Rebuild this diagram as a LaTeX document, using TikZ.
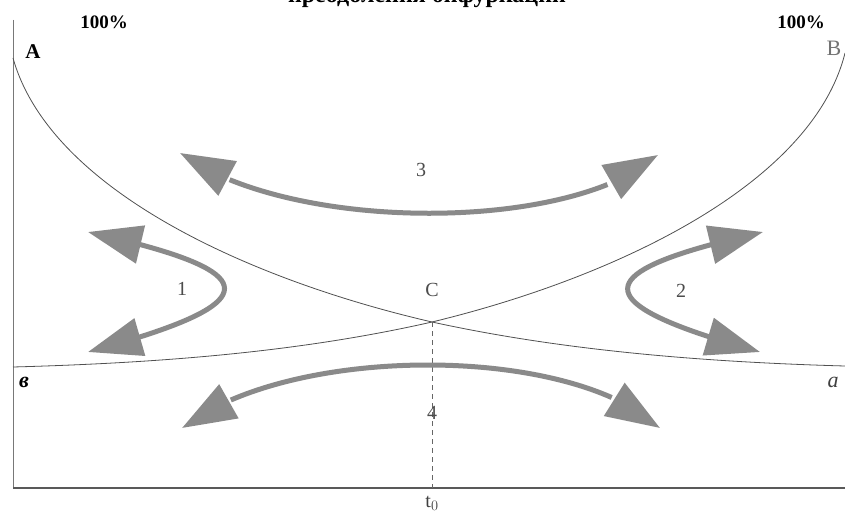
\documentclass[tikz,border=0pt]{standalone}
\usepackage{fontspec}
\setmainfont{Liberation Serif}
\usetikzlibrary{arrows.meta,bending}
\definecolor{arrowgray}{RGB}{138,138,138}
\definecolor{axisgray}{RGB}{120,120,120}
\definecolor{curvegray}{RGB}{80,80,80}
\tikzset{
  garrow/.style={line width=5pt, draw=arrowgray,
    {Triangle[length=54pt,width=38pt]}-{Triangle[length=54pt,width=38pt]}},
  curveline/.style={draw=curvegray, line width=0.8pt},
  axisline/.style={draw=axisgray, line width=1pt},
  baseline/.style={draw=black!65, line width=1.4pt},
  lbl/.style={inner sep=0pt, font=\fontsize{20}{24}\selectfont},
  pct/.style={inner sep=0pt, font=\fontsize{19}{22}\selectfont\bfseries},
}
\begin{document}
\begin{tikzpicture}[x=1pt,y=-1pt]
\useasboundingbox (0,0) rectangle (845,513);
\fill[white] (0,0) rectangle (845,513);
% title (cut off at top, as in the scan)
\node[inner sep=0pt, anchor=base, font=\fontsize{24}{28}\selectfont\bfseries] (title) at (427,3) {преодоления бифуркации};
% points
\coordinate (Atop) at (13,20);
\coordinate (O) at (13,488);
\coordinate (Xend) at (845,488);
\coordinate (A0) at (13,58);
\coordinate (B0) at (845,53);
\coordinate (C) at (432,322);
\coordinate (Aend) at (845,366);
\coordinate (Bend) at (13,367);
\coordinate (T0) at (432,488);
% axes
\draw[axisline] (Atop) -- (O);
\draw[baseline] (O) -- (Xend);
% curves
\draw[curveline] (A0) .. controls (50,190) and (250,280) .. (C)
                      .. controls (560,350) and (700,362) .. (Aend);
\draw[curveline] (B0) .. controls (812,185) and (614,278) .. (C)
                      .. controls (300,352) and (160,363) .. (Bend);
% dashed drop line
\draw[draw=black!60, line width=0.9pt, dash pattern=on 5pt off 4pt] (C) -- (T0);
% arrow endpoints
\coordinate (a3l) at (180,153);
\coordinate (a3r) at (658,155);
\coordinate (a4l) at (182,428);
\coordinate (a4r) at (660,428);
\coordinate (a1t) at (88,232);
\coordinate (a1b) at (88,352);
\coordinate (a2t) at (763,232);
\coordinate (a2b) at (760,352);
% arrows
\draw[garrow] (a3l) .. controls (290,233) and (570,233) .. (a3r);
\draw[garrow] (a4l) .. controls (290,344) and (570,344) .. (a4r);
\draw[garrow] (a1t) .. controls (270,272) and (270,303) .. (a1b);
\draw[garrow] (a2t) .. controls (583,272) and (583,303) .. (a2b);
% labels
\node[pct] (p1) at (104,22) {100\%};
\node[pct] (p2) at (801,22) {100\%};
\node[lbl, font=\fontsize{21}{24}\selectfont\bfseries] (lA) at (33,52) {A};
\node[lbl, text=black!55, font=\fontsize{22}{26}\selectfont] (lB) at (834,48) {B};
\node[lbl, text=black!70] (lC) at (432,290) {C};
\node[lbl, text=black!70] (n1) at (182,289) {1};
\node[lbl, text=black!70] (n2) at (681,291) {2};
\node[lbl, text=black!70] (n3) at (421,170) {3};
\node[lbl, text=black!70] (n4) at (432,413) {4};
\node[lbl, text=black!75] (lt) at (432,503) {t$_0$};
\node[lbl, font=\fontsize{22}{26}\selectfont\bfseries\itshape] (lv) at (24,382) {в};
\node[lbl, font=\fontsize{22}{26}\selectfont\itshape, text=black!75] (la) at (833,382) {a};
\end{tikzpicture}
\end{document}
